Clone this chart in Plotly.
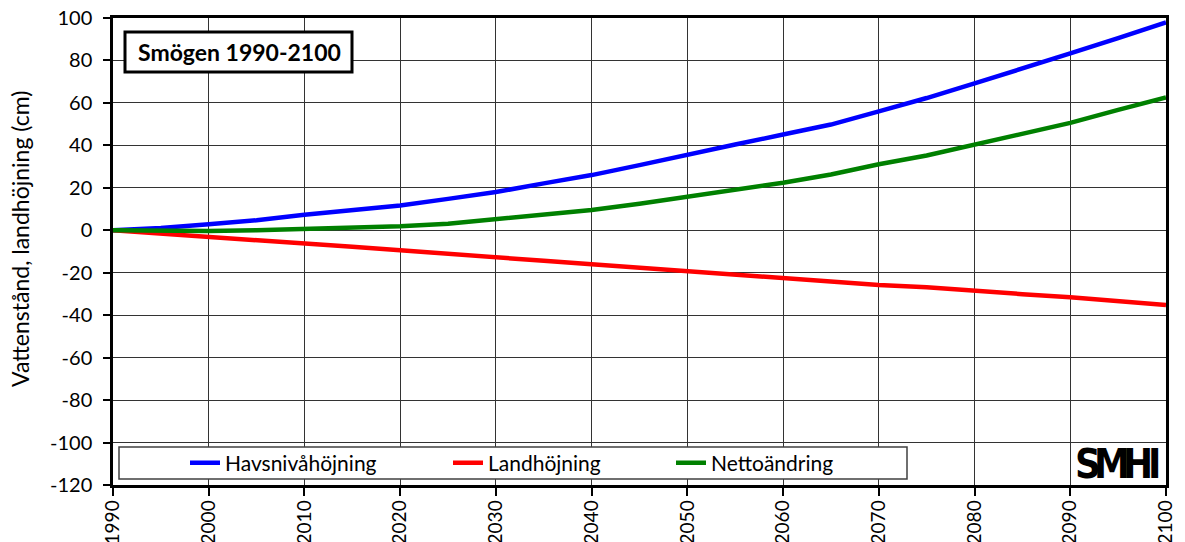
import plotly.graph_objects as go

# Years and projected changes (cm) relative to 1990
years = [1990, 1995, 2000, 2005, 2010, 2015, 2020, 2025, 2030, 2035, 2040, 2045,
         2050, 2055, 2060, 2065, 2070, 2075, 2080, 2085, 2090, 2095, 2100]
havsniva = [0, 1.1, 2.8, 4.7, 7.3, 9.7, 11.7, 14.8, 18.0, 22.1, 26.0, 30.7,
            35.3, 40.4, 45.1, 49.8, 56.0, 62.3, 69.2, 76.0, 83.3, 90.5, 97.9]
landhojning = [0, -1.5, -2.8, -4.7, -6.3, -7.8, -9.4, -11.2, -13.0, -14.4, -16.0, -17.6,
               -19.6, -21.0, -22.7, -24.1, -25.8, -26.9, -28.7, -30.1, -31.6, -33.4, -35.2]
netto = [0, -0.2, -0.3, 0, 0.5, 1.2, 1.9, 3.1, 5.3, 7.2, 9.6, 12.5,
         15.7, 18.8, 22.4, 26.3, 31.1, 35.2, 40.3, 45.0, 50.6, 56.7, 62.6]

series_names = ["Havsnivåhöjning", "Landhöjning", "Nettoändring"]
series_colors = ["#0000FF", "#FF0000", "#008000"]
x_ticks = list(range(1990, 2101, 10))
y_ticks = list(range(-120, 101, 20))
y_ticktext = [str(v) for v in y_ticks]

FONT = "Lato, 'Open Sans', sans-serif"
LOGO_FONT = "'DejaVu Sans Condensed', 'DejaVu Sans', sans-serif"
W, H = 1185, 542
ML, MR, MT, MB = 113, 19, 18, 57
PW, PH = W - ML - MR, H - MT - MB


def px(x, y):
    """Pixel position on the page -> paper coordinates."""
    return (x - ML) / PW, (H - MB - y) / PH


def label(x, y, text, size, family=FONT, angle=0):
    lx, ly = px(x, y)
    fig.add_annotation(xref="paper", yref="paper", x=lx, y=ly, text=text,
                       xanchor="center", yanchor="middle", textangle=angle,
                       showarrow=False, font=dict(family=family, size=size, color="black"))


fig = go.Figure()
legend_ids = ["legend", "legend2", "legend3"]
for vals, name, color, lg in zip([havsniva, landhojning, netto],
                                 series_names, series_colors, legend_ids):
    fig.add_trace(go.Scatter(x=years, y=vals, mode="lines", name=name,
                             line=dict(color=color, width=4.5), legend=lg))

# Legend frame
x0, y0 = px(119, 447)
x1, y1 = px(907, 479)
fig.add_shape(type="rect", xref="paper", yref="paper", x0=x0, x1=x1, y0=y1, y1=y0,
              line=dict(color="#404040", width=1.5), fillcolor="white", layer="above")

# Title frame
tx0, ty0 = px(125, 32)
tx1, ty1 = px(352, 72)
fig.add_shape(type="rect", xref="paper", yref="paper", x0=tx0, x1=tx1, y0=ty1, y1=ty0,
              line=dict(color="black", width=3), fillcolor="white", layer="above")
label(239, 52, "<b>Smögen 1990-2100</b>", 23)

# SMHI mark, letters set tightly
for letter, lx in zip("SMHI", [1088, 1112, 1138, 1154]):
    label(lx, 464, "<b>%s</b>" % letter, 40, family=LOGO_FONT)

# Y-axis title
label(20, 239, "Vattenstånd, landhöjning (cm)", 23, angle=-90)

legend_x = [185, 448, 671]
lgy = px(0, 463)[1]
layout_legends = {}
for lg, lx in zip(legend_ids, legend_x):
    layout_legends[lg] = dict(x=px(lx, 0)[0], y=lgy, xanchor="left", yanchor="middle",
                              orientation="h", bgcolor="rgba(0,0,0,0)", borderwidth=0,
                              font=dict(family=FONT, size=21, color="black"))

fig.update_layout(
    width=W, height=H,
    margin=dict(l=ML, r=MR, t=MT, b=MB),
    paper_bgcolor="white", plot_bgcolor="white",
    showlegend=True,
    font=dict(family=FONT, size=20, color="black"),
    **layout_legends,
)
fig.update_xaxes(range=[1990, 2100], tickvals=x_ticks, ticktext=[str(t) for t in x_ticks],
                 tickangle=-90, showgrid=True, gridcolor="#333333", gridwidth=1.3,
                 showline=True, linecolor="black", linewidth=2.5, mirror=True,
                 ticks="outside", ticklen=8, tickwidth=2, tickcolor="black",
                 ticklabelstandoff=-3,
                 zeroline=False, automargin=False,
                 tickfont=dict(family=FONT, size=19, color="black"))
fig.update_yaxes(range=[-120, 100], tickvals=y_ticks, ticktext=y_ticktext,
                 showgrid=True, gridcolor="#333333",
                 gridwidth=1.3, showline=True, linecolor="black", linewidth=2.5, mirror=True,
                 ticks="outside", ticklen=7, tickwidth=2, tickcolor="black",
                 ticklabelstandoff=7,
                 zeroline=False, automargin=False,
                 tickfont=dict(family=FONT, size=20, color="black"))

fig.write_html("out.html")
